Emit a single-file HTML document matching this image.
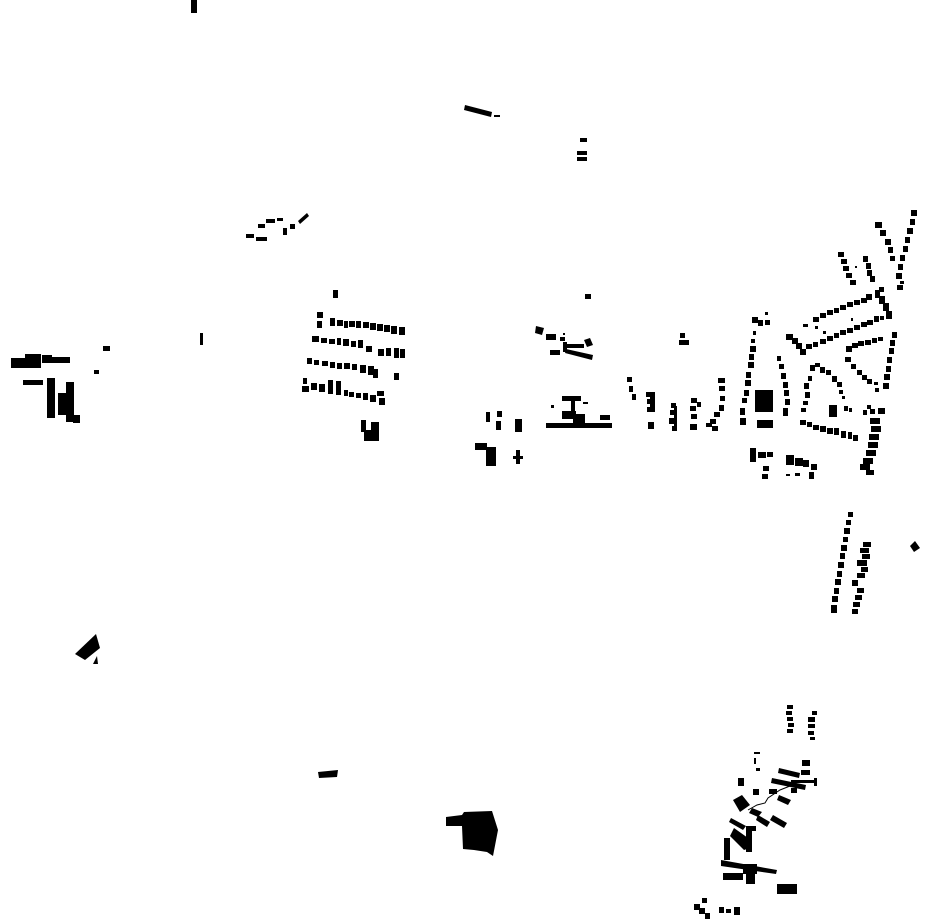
<!DOCTYPE html>
<html><head><meta charset="utf-8"><style>html,body{margin:0;padding:0;background:#fff}svg{display:block}</style></head><body>
<svg width="930" height="924" viewBox="0 0 930 924" xmlns="http://www.w3.org/2000/svg" fill="#000">
<!-- top scattered -->
<rect x="191" y="0" width="6" height="13"/>
<polygon points="465,105 492,112 491,117 464,110"/>
<rect x="494" y="115" width="6" height="2"/>
<rect x="580" y="138" width="7" height="4"/>
<rect x="577" y="151" width="10" height="4"/><rect x="577" y="157" width="10" height="4"/>
<!-- arc -->
<rect x="246" y="234" width="8" height="4"/><rect x="256" y="237" width="11" height="4"/><rect x="258" y="224" width="7" height="4"/><rect x="266" y="219" width="9" height="4"/><rect x="277" y="218" width="6" height="3"/><rect x="283" y="228" width="4" height="7"/><rect x="290" y="224" width="5" height="5"/><polygon points="298,221 307,213 309,216 300,224"/>
<rect x="333" y="290" width="5" height="8"/>
<rect x="200" y="333" width="3" height="12"/>
<rect x="103" y="346" width="7" height="5"/>
<rect x="94" y="370" width="5" height="4"/>
<!-- left cluster -->
<rect x="11" y="358" width="16" height="10"/><rect x="25" y="354" width="16" height="14"/><rect x="42" y="355" width="10" height="8"/><rect x="52" y="357" width="18" height="6"/>
<rect x="23" y="380" width="20" height="5"/><rect x="47" y="378" width="8" height="40"/><rect x="58" y="393" width="12" height="22"/><rect x="66" y="382" width="8" height="40"/><rect x="73" y="415" width="7" height="8"/>
<!-- west grid -->
<g>
<rect x="317" y="312" width="6" height="6"/><rect x="317" y="321" width="5" height="7"/>
<rect x="330" y="318" width="5" height="8"/><rect x="337" y="320" width="6" height="6"/><rect x="344" y="321" width="4" height="7"/><rect x="349" y="321" width="6" height="6"/><rect x="356" y="321" width="5" height="7"/><rect x="363" y="322" width="6" height="6"/><rect x="370" y="323" width="6" height="7"/><rect x="377" y="324" width="6" height="7"/><rect x="384" y="325" width="6" height="7"/><rect x="391" y="326" width="6" height="8"/><rect x="399" y="327" width="6" height="8"/>
<rect x="312" y="336" width="7" height="6"/><rect x="321" y="338" width="6" height="5"/><rect x="329" y="339" width="6" height="5"/><rect x="337" y="338" width="4" height="7"/><rect x="343" y="339" width="6" height="7"/><rect x="351" y="341" width="5" height="6"/><rect x="358" y="340" width="5" height="8"/><rect x="366" y="346" width="6" height="6"/><rect x="378" y="349" width="6" height="7"/><rect x="386" y="348" width="5" height="8"/><rect x="394" y="348" width="5" height="10"/><rect x="400" y="349" width="5" height="9"/>
<rect x="307" y="358" width="5" height="6"/><rect x="314" y="360" width="5" height="5"/><rect x="322" y="361" width="6" height="5"/><rect x="330" y="362" width="5" height="6"/><rect x="337" y="363" width="5" height="6"/><rect x="344" y="363" width="6" height="6"/><rect x="352" y="364" width="5" height="6"/><rect x="360" y="365" width="6" height="8"/><rect x="368" y="366" width="6" height="9"/><rect x="373" y="369" width="5" height="9"/><rect x="394" y="373" width="5" height="7"/>
<rect x="303" y="378" width="4" height="6"/><rect x="302" y="386" width="7" height="6"/><rect x="311" y="383" width="6" height="7"/><rect x="319" y="384" width="6" height="8"/><rect x="328" y="380" width="5" height="14"/><rect x="336" y="381" width="5" height="14"/><rect x="344" y="390" width="4" height="6"/><rect x="349" y="392" width="5" height="5"/><rect x="356" y="393" width="5" height="5"/><rect x="363" y="393" width="5" height="7"/><rect x="370" y="395" width="6" height="7"/><rect x="377" y="391" width="7" height="5"/><rect x="379" y="398" width="6" height="7"/>
<rect x="361" y="420" width="5" height="12"/><rect x="364" y="430" width="7" height="11"/><rect x="371" y="422" width="8" height="19"/>
</g>
<!-- center -->
<rect x="585" y="294" width="6" height="5"/>
<polygon points="536,326 544,328 542,335 535,333"/><rect x="546" y="334" width="10" height="6"/><rect x="560" y="337" width="5" height="4"/><rect x="564" y="344" width="20" height="4"/><rect x="563" y="342" width="4" height="10"/><rect x="550" y="350" width="10" height="5"/><polygon points="566,349 593,355 592,360 565,353"/><polygon points="584,340 590,338 593,345 587,347"/><rect x="563" y="333" width="2" height="2"/>
<rect x="562" y="396" width="19" height="5"/><rect x="571" y="401" width="4" height="14"/><rect x="562" y="411" width="14" height="8"/><rect x="583" y="402" width="5" height="2"/><rect x="551" y="405" width="3" height="3"/>
<rect x="546" y="423" width="66" height="5"/><rect x="600" y="415" width="10" height="5"/><rect x="573" y="414" width="12" height="12"/>
<rect x="486" y="412" width="4" height="10"/><rect x="497" y="411" width="5" height="6"/><rect x="496" y="421" width="5" height="9"/><rect x="515" y="419" width="7" height="13"/>
<rect x="475" y="443" width="12" height="7"/><rect x="486" y="447" width="10" height="19"/><rect x="513" y="456" width="10" height="3"/><rect x="516" y="450" width="4" height="14"/>
<rect x="680" y="333" width="5" height="5"/><rect x="679" y="340" width="10" height="5"/>
<!-- east dense -->
<g>
<rect x="627" y="377" width="5" height="5"/><rect x="629" y="386" width="4" height="6"/><rect x="632" y="394" width="4" height="6"/>
<rect x="646" y="392" width="4" height="5"/><rect x="647" y="399" width="5" height="5"/><rect x="647" y="407" width="5" height="5"/><rect x="650" y="392" width="5" height="20"/><rect x="648" y="422" width="6" height="7"/>
<rect x="671" y="403" width="5" height="5"/><rect x="670" y="410" width="5" height="5"/><rect x="669" y="418" width="6" height="6"/><rect x="672" y="426" width="5" height="5"/><rect x="674" y="406" width="3" height="20"/>
<rect x="691" y="398" width="6" height="5"/><rect x="690" y="406" width="6" height="5"/><rect x="691" y="414" width="6" height="5"/><rect x="690" y="424" width="7" height="6"/><rect x="697" y="402" width="4" height="5"/><rect x="706" y="423" width="6" height="4"/>
<rect x="718" y="378" width="7" height="5"/><rect x="719" y="386" width="6" height="5"/><rect x="720" y="396" width="5" height="5"/><rect x="719" y="405" width="5" height="6"/><rect x="714" y="412" width="6" height="5"/><rect x="710" y="419" width="6" height="5"/><rect x="712" y="426" width="6" height="5"/>
<rect x="740" y="418" width="6" height="7"/><rect x="740" y="408" width="5" height="7"/><rect x="742" y="398" width="5" height="5"/><rect x="744" y="390" width="5" height="6"/><rect x="745" y="380" width="6" height="6"/><rect x="746" y="372" width="5" height="6"/><rect x="748" y="362" width="6" height="6"/><rect x="749" y="354" width="5" height="6"/><rect x="750" y="346" width="6" height="6"/><rect x="751" y="339" width="4" height="4"/><rect x="753" y="331" width="3" height="4"/>
<rect x="752" y="317" width="6" height="6"/><rect x="758" y="320" width="5" height="6"/><rect x="765" y="312" width="3" height="3"/><rect x="765" y="320" width="5" height="5"/>
<rect x="755" y="390" width="18" height="22"/><rect x="757" y="420" width="16" height="8"/>
<rect x="777" y="356" width="4" height="5"/><rect x="779" y="364" width="5" height="5"/><rect x="781" y="373" width="5" height="6"/><rect x="783" y="382" width="5" height="6"/><rect x="784" y="390" width="5" height="6"/><rect x="785" y="399" width="5" height="6"/><rect x="783" y="408" width="5" height="5"/><rect x="783" y="413" width="5" height="3"/>
<rect x="750" y="448" width="6" height="14"/><rect x="758" y="452" width="8" height="6"/><rect x="767" y="452" width="6" height="5"/><rect x="763" y="466" width="6" height="5"/><rect x="762" y="474" width="6" height="5"/>
<rect x="786" y="455" width="8" height="10"/><rect x="795" y="458" width="8" height="8"/><rect x="803" y="460" width="6" height="7"/><rect x="811" y="464" width="6" height="6"/><rect x="786" y="474" width="4" height="2"/><rect x="795" y="473" width="5" height="3"/><rect x="809" y="472" width="5" height="7"/>
<!-- bands NE -->
<rect x="786" y="334" width="7" height="6"/><rect x="792" y="338" width="6" height="6"/><rect x="796" y="343" width="6" height="6"/><rect x="800" y="349" width="6" height="6"/><rect x="806" y="344" width="6" height="5"/><rect x="813" y="342" width="5" height="5"/><rect x="820" y="339" width="6" height="5"/><rect x="827" y="336" width="6" height="5"/><rect x="834" y="333" width="5" height="5"/><rect x="840" y="330" width="6" height="5"/><rect x="847" y="328" width="6" height="5"/><rect x="854" y="325" width="6" height="5"/><rect x="861" y="322" width="6" height="5"/><rect x="867" y="320" width="6" height="5"/><rect x="874" y="316" width="5" height="6"/><rect x="880" y="316" width="4" height="4"/>
<rect x="803" y="324" width="5" height="3"/><rect x="813" y="317" width="6" height="5"/><rect x="820" y="313" width="6" height="5"/><rect x="827" y="310" width="6" height="5"/><rect x="834" y="308" width="5" height="5"/><rect x="840" y="305" width="6" height="5"/><rect x="847" y="302" width="6" height="5"/><rect x="854" y="300" width="6" height="5"/><rect x="861" y="298" width="6" height="5"/><rect x="866" y="294" width="6" height="6"/><rect x="815" y="326" width="3" height="3"/><rect x="823" y="331" width="3" height="3"/><rect x="851" y="318" width="2" height="3"/>
<rect x="875" y="290" width="5" height="8"/><rect x="879" y="296" width="6" height="8"/><rect x="883" y="303" width="6" height="8"/><rect x="886" y="311" width="6" height="8"/><rect x="879" y="287" width="5" height="5"/>
<rect x="838" y="252" width="6" height="5"/><rect x="841" y="259" width="6" height="5"/><rect x="843" y="266" width="6" height="5"/><rect x="846" y="273" width="6" height="5"/><rect x="850" y="280" width="6" height="5"/><rect x="855" y="266" width="2" height="2"/>
<rect x="863" y="256" width="5" height="6"/><rect x="866" y="263" width="5" height="6"/><rect x="867" y="270" width="5" height="6"/><rect x="870" y="276" width="5" height="6"/>
<rect x="875" y="222" width="7" height="6"/><rect x="880" y="230" width="6" height="6"/><rect x="885" y="239" width="6" height="6"/><rect x="888" y="247" width="5" height="6"/><rect x="890" y="256" width="5" height="5"/>
<rect x="911" y="210" width="6" height="6"/><rect x="910" y="219" width="5" height="6"/><rect x="907" y="228" width="6" height="6"/><rect x="905" y="237" width="5" height="6"/><rect x="903" y="246" width="5" height="6"/><rect x="900" y="255" width="5" height="6"/><rect x="898" y="264" width="5" height="6"/><rect x="896" y="273" width="6" height="6"/><rect x="900" y="281" width="4" height="3"/><rect x="897" y="285" width="6" height="5"/>
<!-- middle curve block -->
<rect x="846" y="346" width="6" height="6"/><rect x="852" y="343" width="6" height="5"/><rect x="858" y="341" width="6" height="5"/><rect x="865" y="340" width="6" height="5"/><rect x="872" y="338" width="5" height="5"/><rect x="878" y="337" width="5" height="4"/><rect x="892" y="332" width="5" height="6"/>
<rect x="845" y="357" width="6" height="5"/><rect x="851" y="364" width="5" height="5"/><rect x="857" y="370" width="5" height="5"/><rect x="862" y="375" width="5" height="5"/><rect x="867" y="379" width="5" height="5"/><rect x="874" y="382" width="4" height="3"/><rect x="875" y="388" width="4" height="4"/>
<rect x="890" y="340" width="5" height="6"/><rect x="889" y="348" width="5" height="6"/><rect x="887" y="357" width="5" height="6"/><rect x="886" y="366" width="5" height="6"/><rect x="884" y="374" width="6" height="6"/><rect x="883" y="383" width="6" height="6"/>
<rect x="810" y="365" width="5" height="6"/><rect x="815" y="363" width="5" height="4"/><rect x="820" y="367" width="5" height="6"/><rect x="826" y="370" width="5" height="5"/><rect x="832" y="376" width="5" height="6"/><rect x="837" y="382" width="5" height="5"/><rect x="839" y="390" width="4" height="4"/><rect x="842" y="396" width="3" height="3"/>
<rect x="808" y="376" width="4" height="5"/><rect x="804" y="383" width="5" height="6"/><rect x="805" y="392" width="5" height="6"/><rect x="803" y="401" width="5" height="4"/><rect x="801" y="408" width="5" height="4"/>
<rect x="829" y="405" width="8" height="12"/><rect x="844" y="406" width="4" height="5"/><rect x="849" y="408" width="3" height="4"/>
<rect x="800" y="420" width="6" height="5"/><rect x="807" y="422" width="5" height="5"/><rect x="813" y="425" width="6" height="5"/><rect x="820" y="426" width="6" height="6"/><rect x="827" y="428" width="6" height="6"/><rect x="834" y="428" width="5" height="7"/><rect x="841" y="431" width="5" height="7"/><rect x="848" y="432" width="4" height="7"/><rect x="853" y="435" width="5" height="6"/>
<rect x="863" y="410" width="4" height="5"/><rect x="867" y="405" width="4" height="4"/><rect x="870" y="409" width="5" height="5"/><rect x="878" y="408" width="7" height="6"/>
<rect x="870" y="418" width="10" height="6"/><rect x="871" y="426" width="10" height="6"/><rect x="869" y="434" width="10" height="6"/><rect x="868" y="442" width="10" height="6"/><rect x="866" y="450" width="10" height="6"/><rect x="863" y="458" width="10" height="6"/><rect x="860" y="464" width="10" height="6"/><rect x="866" y="470" width="8" height="5"/>
</g>
<!-- south-east column -->
<g>
<rect x="848" y="512" width="5" height="5"/><rect x="846" y="520" width="5" height="5"/><rect x="844" y="528" width="6" height="6"/><rect x="843" y="537" width="5" height="5"/><rect x="841" y="545" width="6" height="6"/><rect x="840" y="553" width="5" height="6"/><rect x="838" y="562" width="6" height="6"/><rect x="837" y="571" width="5" height="6"/><rect x="835" y="579" width="6" height="6"/><rect x="834" y="588" width="5" height="6"/><rect x="832" y="596" width="6" height="6"/><rect x="831" y="605" width="6" height="8"/>
<rect x="863" y="542" width="8" height="5"/><rect x="860" y="548" width="9" height="5"/><rect x="862" y="554" width="8" height="5"/><rect x="857" y="560" width="10" height="6"/><rect x="861" y="567" width="7" height="5"/><rect x="857" y="573" width="8" height="5"/><rect x="852" y="580" width="6" height="6"/><rect x="857" y="588" width="7" height="5"/><rect x="855" y="595" width="7" height="5"/><rect x="853" y="602" width="7" height="5"/><rect x="852" y="609" width="6" height="5"/>
<polygon points="910,546 915,541 920,548 914,552"/>
</g>
<!-- south-west -->
<polygon points="75,654 96,634 100,648 85,660"/><polygon points="93,664 97,656 98,664"/>
<polygon points="318,772 338,770 337,777 319,778"/>
<polygon points="446,817 462,815 464,812 492,811 498,830 493,856 487,852 474,850 463,849 462,826 446,826"/>
<!-- south-east cluster -->
<g>
<rect x="787" y="705" width="6" height="4"/><rect x="786" y="711" width="6" height="4"/><rect x="787" y="717" width="6" height="4"/><rect x="788" y="723" width="6" height="4"/><rect x="787" y="729" width="6" height="4"/>
<rect x="812" y="711" width="5" height="4"/><rect x="808" y="717" width="7" height="5"/><rect x="808" y="724" width="7" height="4"/><rect x="808" y="731" width="6" height="4"/><rect x="810" y="737" width="5" height="3"/>
<rect x="754" y="752" width="6" height="2"/><rect x="754" y="758" width="2" height="6"/><rect x="756" y="768" width="4" height="3"/>
<rect x="802" y="760" width="8" height="6"/><polygon points="779,768 800,773 799,778 778,773"/><polygon points="772,778 806,785 805,790 771,783"/><rect x="791" y="780" width="25" height="3"/><rect x="814" y="778" width="3" height="8"/><rect x="801" y="770" width="9" height="5"/>
<rect x="738" y="778" width="6" height="8"/><rect x="753" y="789" width="6" height="6"/><rect x="769" y="789" width="8" height="5"/><rect x="791" y="788" width="6" height="5"/>
<polygon points="779,795 791,800 788,805 777,800"/><polygon points="733,800 742,795 750,805 740,812"/><polygon points="752,808 762,812 758,817 749,813"/>
<polyline points="748,810 757,805 765,803 768,798 780,790 790,786 797,782" fill="none" stroke="#000" stroke-width="1"/>
<polygon points="758,815 770,822 767,827 756,820"/><polygon points="773,815 787,823 784,828 770,820"/><polygon points="731,818 746,826 743,830 729,822"/>
<polygon points="734,828 748,838 750,848 744,850 730,836"/><rect x="746" y="826" width="6" height="26"/><rect x="751" y="826" width="5" height="5"/>
<rect x="724" y="838" width="6" height="22"/><polygon points="721,860 777,870 776,874 721,866"/><rect x="743" y="864" width="14" height="10"/><rect x="746" y="872" width="9" height="12"/><rect x="723" y="873" width="20" height="7"/>
<rect x="777" y="884" width="20" height="10"/>
<rect x="702" y="898" width="5" height="5"/><rect x="694" y="904" width="6" height="6"/><rect x="699" y="908" width="6" height="6"/><rect x="705" y="913" width="5" height="6"/><rect x="719" y="907" width="5" height="6"/><rect x="726" y="909" width="5" height="4"/><rect x="734" y="907" width="6" height="8"/>
</g>
</svg>
</body></html>
